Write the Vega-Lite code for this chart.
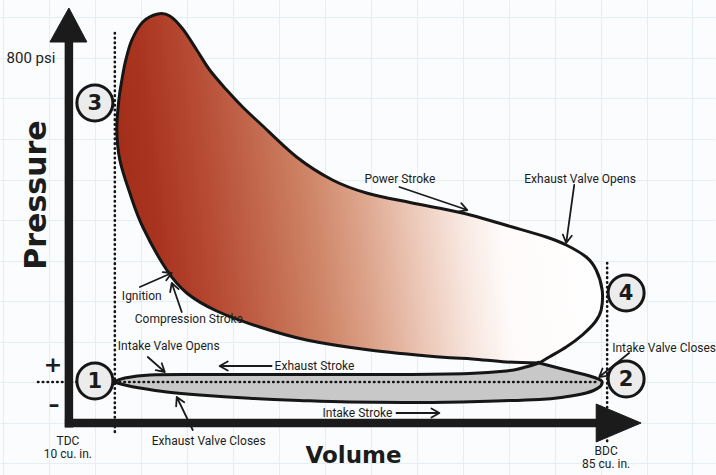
{
  "$schema": "https://vega.github.io/schema/vega-lite/v6.json",
  "width": 716,
  "height": 475,
  "autosize": {"type": "fit", "contains": "padding"},
  "padding": 0,
  "background": "#fbfcfd",
  "config": {"view": {"stroke": null}},
  "datasets": {
    "loop": [
      {"i": 1, "vol": 74.66, "psi": 46.9}, {"i": 2, "vol": 69.64, "psi": 49.4}, {"i": 3, "vol": 64.46, "psi": 56.8},
      {"i": 4, "vol": 59.44, "psi": 61.7}, {"i": 5, "vol": 48.79, "psi": 79.0}, {"i": 6, "vol": 39.21, "psi": 103.7},
      {"i": 7, "vol": 32.06, "psi": 135.8}, {"i": 8, "vol": 25.52, "psi": 175.3}, {"i": 9, "vol": 20.95, "psi": 219.8},
      {"i": 10, "vol": 17.91, "psi": 276.5}, {"i": 11, "vol": 14.26, "psi": 382.7}, {"i": 12, "vol": 12.28, "psi": 466.7},
      {"i": 13, "vol": 10.76, "psi": 548.1}, {"i": 14, "vol": 10.3, "psi": 622.2}, {"i": 15, "vol": 10.61, "psi": 696.3},
      {"i": 16, "vol": 11.07, "psi": 745.7}, {"i": 17, "vol": 11.67, "psi": 795.1}, {"i": 18, "vol": 12.59, "psi": 844.4},
      {"i": 19, "vol": 14.26, "psi": 888.9}, {"i": 20, "vol": 16.54, "psi": 908.6}, {"i": 21, "vol": 18.37, "psi": 903.7},
      {"i": 22, "vol": 20.35, "psi": 871.6}, {"i": 23, "vol": 22.48, "psi": 819.8}, {"i": 24, "vol": 24.45, "psi": 770.4},
      {"i": 25, "vol": 27.04, "psi": 721.0}, {"i": 26, "vol": 29.47, "psi": 679.0}, {"i": 27, "vol": 32.06, "psi": 639.5},
      {"i": 28, "vol": 37.69, "psi": 555.6}, {"i": 29, "vol": 43.16, "psi": 498.8}, {"i": 30, "vol": 48.34, "psi": 466.7},
      {"i": 31, "vol": 55.34, "psi": 442.0}, {"i": 32, "vol": 62.94, "psi": 417.3}, {"i": 33, "vol": 70.55, "psi": 382.7},
      {"i": 34, "vol": 75.72, "psi": 358.0}, {"i": 35, "vol": 78.76, "psi": 338.3}, {"i": 36, "vol": 81.81, "psi": 308.6},
      {"i": 37, "vol": 83.33, "psi": 276.5}, {"i": 38, "vol": 84.24, "psi": 227.2}, {"i": 39, "vol": 84.09, "psi": 177.8},
      {"i": 40, "vol": 83.17, "psi": 148.1}, {"i": 41, "vol": 81.2, "psi": 116.0}, {"i": 42, "vol": 78.76, "psi": 86.4},
      {"i": 43, "vol": 76.18, "psi": 61.7}, {"i": 44, "vol": 74.66, "psi": 46.9}
    ],
    "intake": [
      {"i": 1, "vol": 9.85, "psi": 0}, {"i": 2, "vol": 11.52, "psi": 9.9}, {"i": 3, "vol": 15.33, "psi": 17.3},
      {"i": 4, "vol": 22.93, "psi": 18.5}, {"i": 5, "vol": 38.14, "psi": 18.5}, {"i": 6, "vol": 53.36, "psi": 18.5},
      {"i": 7, "vol": 64.01, "psi": 21.0}, {"i": 8, "vol": 69.64, "psi": 27.2}, {"i": 9, "vol": 72.07, "psi": 34.6},
      {"i": 10, "vol": 74.66, "psi": 46.9}, {"i": 10.5, "vol": 74.66, "psi": 46.9}, {"i": 11, "vol": 78.76, "psi": 29.6},
      {"i": 12, "vol": 81.81, "psi": 17.3}, {"i": 13, "vol": 83.48, "psi": 8.6}, {"i": 14, "vol": 84.24, "psi": 0},
      {"i": 15, "vol": 83.63, "psi": -14.8}, {"i": 16, "vol": 81.81, "psi": -27.2}, {"i": 17, "vol": 78.46, "psi": -37.0},
      {"i": 18, "vol": 74.66, "psi": -43.0}, {"i": 19, "vol": 65.53, "psi": -47.9}, {"i": 20, "vol": 56.4, "psi": -50.4},
      {"i": 21, "vol": 45.75, "psi": -49.4}, {"i": 22, "vol": 38.14, "psi": -45.4}, {"i": 23, "vol": 30.54, "psi": -40.0},
      {"i": 24, "vol": 22.93, "psi": -32.1}, {"i": 25, "vol": 17.91, "psi": -24.7}, {"i": 26, "vol": 13.8, "psi": -14.8},
      {"i": 27, "vol": 11.52, "psi": -7.4}, {"i": 28, "vol": 9.85, "psi": 0}
    ],
    "dots": [
      {"line": "TDC", "vol": 10, "psi": 861.7, "vol2": 10, "psi2": -123.5},
      {"line": "BDC", "vol": 85, "psi": 293.8, "vol2": 85, "psi2": -150.6},
      {"line": "atmospheric", "vol": -1.71, "psi": 0, "vol2": 83.48, "psi2": 0}
    ],
    "axes": [
      {"axis": "pressure", "vol": 3.0, "psi": 839.5, "vol2": 3.0, "psi2": -112.3},
      {"axis": "volume", "vol": 2.39, "psi": -101.2, "vol2": 83.78, "psi2": -101.2}
    ],
    "heads": [
      {"id": "pressure", "i": 1, "vol": 0.11, "psi": 839.5}, {"id": "pressure", "i": 2, "vol": 3.0, "psi": 923.5},
      {"id": "pressure", "i": 3, "vol": 5.74, "psi": 839.5}, {"id": "pressure", "i": 4, "vol": 0.11, "psi": 839.5},
      {"id": "volume", "i": 1, "vol": 83.33, "psi": -54.3}, {"id": "volume", "i": 2, "vol": 90.17, "psi": -101.2},
      {"id": "volume", "i": 3, "vol": 83.33, "psi": -148.1}, {"id": "volume", "i": 4, "vol": 83.33, "psi": -54.3}
    ],
    "pointers": [
      {"id": "P", "i": 1, "vol": 53.36, "psi": 481.5}, {"id": "P", "i": 2, "vol": 63.7, "psi": 424.7}, {"id": "P", "i": 3, "vol": 62.33, "psi": 420.5}, {"id": "P", "i": 4, "vol": 63.7, "psi": 424.7}, {"id": "P", "i": 5, "vol": 62.77, "psi": 441.5},
      {"id": "E", "i": 1, "vol": 79.98, "psi": 486.4}, {"id": "E", "i": 2, "vol": 78.76, "psi": 343.2}, {"id": "E", "i": 3, "vol": 78.25, "psi": 364.2}, {"id": "E", "i": 4, "vol": 78.76, "psi": 343.2}, {"id": "E", "i": 5, "vol": 79.61, "psi": 361.2},
      {"id": "I", "i": 1, "vol": 13.8, "psi": 234.6}, {"id": "I", "i": 2, "vol": 18.67, "psi": 269.1}, {"id": "I", "i": 3, "vol": 17.84, "psi": 251.1}, {"id": "I", "i": 4, "vol": 18.67, "psi": 269.1}, {"id": "I", "i": 5, "vol": 17.29, "psi": 271.4},
      {"id": "C", "i": 1, "vol": 20.19, "psi": 172.8}, {"id": "C", "i": 2, "vol": 18.67, "psi": 244.4}, {"id": "C", "i": 3, "vol": 19.72, "psi": 229.4}, {"id": "C", "i": 4, "vol": 18.67, "psi": 244.4}, {"id": "C", "i": 5, "vol": 18.43, "psi": 222.2},
      {"id": "IVO", "i": 1, "vol": 15.02, "psi": 61.7}, {"id": "IVO", "i": 2, "vol": 17.61, "psi": 24.7}, {"id": "IVO", "i": 3, "vol": 16.24, "psi": 29.4}, {"id": "IVO", "i": 4, "vol": 17.61, "psi": 24.7}, {"id": "IVO", "i": 5, "vol": 17.15, "psi": 46.2},
      {"id": "EVC", "i": 1, "vol": 21.87, "psi": -118.5}, {"id": "EVC", "i": 2, "vol": 19.43, "psi": -37.0}, {"id": "EVC", "i": 3, "vol": 20.57, "psi": -49.9}, {"id": "EVC", "i": 4, "vol": 19.43, "psi": -37.0}, {"id": "EVC", "i": 5, "vol": 19.34, "psi": -59.8},
      {"id": "IVC", "i": 1, "vol": 88.35, "psi": 71.6}, {"id": "IVC", "i": 2, "vol": 83.78, "psi": 12.3}, {"id": "IVC", "i": 3, "vol": 84.3, "psi": 33.3}, {"id": "IVC", "i": 4, "vol": 83.78, "psi": 12.3}, {"id": "IVC", "i": 5, "vol": 85.17, "psi": 16.0},
      {"id": "ES", "i": 1, "vol": 33.88, "psi": 39.5}, {"id": "ES", "i": 2, "vol": 25.97, "psi": 39.5}, {"id": "ES", "i": 3, "vol": 27.19, "psi": 50.6}, {"id": "ES", "i": 4, "vol": 25.97, "psi": 39.5}, {"id": "ES", "i": 5, "vol": 27.19, "psi": 28.4},
      {"id": "IS", "i": 1, "vol": 52.9, "psi": -76.5}, {"id": "IS", "i": 2, "vol": 59.44, "psi": -76.5}, {"id": "IS", "i": 3, "vol": 58.23, "psi": -65.4}, {"id": "IS", "i": 4, "vol": 59.44, "psi": -76.5}, {"id": "IS", "i": 5, "vol": 58.23, "psi": -87.7}
    ],
    "points": [
      {"n": "3", "vol": 6.96, "psi": 688.9},
      {"n": "1", "vol": 6.96, "psi": 2.5},
      {"n": "4", "vol": 87.89, "psi": 219.8},
      {"n": "2", "vol": 87.89, "psi": 7.4}
    ],
    "notes": [
      {"label": "Intake Valve Opens", "vol": 10.46, "psi": 79.0},
      {"label": "Exhaust Stroke", "vol": 34.34, "psi": 29.6},
      {"label": "Intake Stroke", "vol": 41.64, "psi": -86.4},
      {"label": "Exhaust Valve Closes", "vol": 15.63, "psi": -155.6},
      {"label": "Intake Valve Closes", "vol": 85.76, "psi": 74.1},
      {"label": "Exhaust Valve Opens", "vol": 72.37, "psi": 491.4},
      {"label": "Power Stroke", "vol": 48.03, "psi": 491.4},
      {"label": "Ignition", "vol": 11.07, "psi": 202.5},
      {"label": "Compression Stroke", "vol": 13.04, "psi": 146.9}
    ],
    "ends": [
      {"label": "TDC", "vol": 2.85, "psi": -155.6},
      {"label": "10 cu. in.", "vol": 2.85, "psi": -187.7},
      {"label": "BDC", "vol": 84.85, "psi": -180.2},
      {"label": "85 cu. in.", "vol": 84.85, "psi": -212.3}
    ],
    "signs": [
      {"label": "+", "vol": 0.57, "psi": 42.0},
      {"label": "–", "vol": 0.72, "psi": -56.8}
    ]
  },
  "encoding": {
    "x": {"field": "vol", "type": "quantitative",
      "scale": {"domain": [-7.495, 101.43], "nice": false, "zero": false},
      "axis": {"grid": true, "labels": false, "ticks": false, "domain": false, "title": null, "gridColor": "#e4eff5", "gridWidth": 1, "minExtent": 0, "maxExtent": 0,
        "values": [-7, 0, 7, 14, 21, 28, 35, 42, 49, 56, 63, 70, 77, 84, 91, 98]}},
    "y": {"field": "psi", "type": "quantitative",
      "scale": {"domain": [-229.6, 943.2], "nice": false, "zero": false},
      "axis": {"grid": true, "labels": false, "ticks": false, "domain": false, "title": null, "gridColor": "#e4eff5", "gridWidth": 1, "minExtent": 0, "maxExtent": 0,
        "values": [-200, -100, 0, 100, 200, 300, 400, 500, 600, 700, 800, 900]}}
  },
  "layer": [
    {
      "data": {"name": "loop"},
      "mark": {"type": "line", "interpolate": "cardinal", "strokeWidth": 3, "stroke": "#161616", "strokeJoin": "round",
        "fill": {"gradient": "linear", "x1": 0, "y1": 0.53, "x2": 1, "y2": 0.45,
          "stops": [
            {"offset": 0, "color": "#a22c18"},
            {"offset": 0.08, "color": "#a93521"},
            {"offset": 0.18, "color": "#b64a33"},
            {"offset": 0.3, "color": "#c36a4f"},
            {"offset": 0.4, "color": "#cf8668"},
            {"offset": 0.5, "color": "#dda58d"},
            {"offset": 0.6, "color": "#ecc8b8"},
            {"offset": 0.7, "color": "#f8e8e1"},
            {"offset": 0.78, "color": "#fefbfa"},
            {"offset": 1, "color": "#ffffff"}
          ]}},
      "encoding": {"order": {"field": "i", "type": "quantitative"}}
    },
    {
      "data": {"name": "intake"},
      "mark": {"type": "line", "interpolate": "cardinal", "strokeWidth": 3, "stroke": "#161616", "strokeJoin": "round", "fill": "#c8c8c8"},
      "encoding": {"order": {"field": "i", "type": "quantitative"}}
    },
    {
      "data": {"name": "dots"},
      "mark": {"type": "rule", "strokeDash": [0.5, 4.3], "strokeCap": "round", "strokeWidth": 2.6, "color": "#141414"},
      "encoding": {"x2": {"field": "vol2"}, "y2": {"field": "psi2"}}
    },
    {
      "data": {"name": "axes"},
      "mark": {"type": "rule", "strokeWidth": 8.5, "color": "#1b1b1b", "strokeCap": "butt"},
      "encoding": {"x2": {"field": "vol2"}, "y2": {"field": "psi2"}}
    },
    {
      "data": {"name": "heads"},
      "mark": {"type": "line", "interpolate": "linear", "fill": "#1b1b1b", "stroke": "#1b1b1b", "strokeWidth": 1},
      "encoding": {"detail": {"field": "id"}, "order": {"field": "i", "type": "quantitative"}}
    },
    {
      "data": {"name": "pointers"},
      "mark": {"type": "line", "interpolate": "linear", "stroke": "#1b1b1b", "strokeWidth": 1.8, "strokeCap": "round", "strokeJoin": "round"},
      "encoding": {"detail": {"field": "id"}, "order": {"field": "i", "type": "quantitative"}}
    },
    {
      "data": {"name": "points"},
      "mark": {"type": "point", "shape": "circle", "size": 1296, "filled": true, "fill": "#ececec", "stroke": "#161616", "strokeWidth": 3, "opacity": 1, "fillOpacity": 1}
    },
    {
      "data": {"name": "points"},
      "mark": {"type": "text", "font": "DejaVu Sans", "fontWeight": "bold", "fontSize": 21, "align": "center", "baseline": "middle", "color": "#1b1b1b", "dy": 1},
      "encoding": {"text": {"field": "n"}}
    },
    {
      "data": {"name": "notes"},
      "mark": {"type": "text", "font": "Roboto", "fontSize": 12, "align": "left", "baseline": "alphabetic", "color": "#1c1c1c"},
      "encoding": {"text": {"field": "label"}}
    },
    {
      "data": {"name": "ends"},
      "mark": {"type": "text", "font": "Roboto", "fontSize": 12, "align": "center", "baseline": "alphabetic", "color": "#1c1c1c"},
      "encoding": {"text": {"field": "label"}}
    },
    {
      "data": {"values": [{"label": "800 psi", "vol": -2.78, "psi": 787.7}]},
      "mark": {"type": "text", "font": "Roboto", "fontSize": 15, "align": "center", "baseline": "alphabetic", "color": "#1c1c1c"},
      "encoding": {"text": {"field": "label"}}
    },
    {
      "data": {"values": [{"label": "Pressure", "vol": -1.87, "psi": 461.7}]},
      "mark": {"type": "text", "font": "DejaVu Sans", "fontWeight": "bold", "fontSize": 30, "angle": 270, "align": "center", "baseline": "middle", "color": "#1c1c1c"},
      "encoding": {"text": {"field": "label"}}
    },
    {
      "data": {"values": [{"label": "Volume", "vol": 46.36, "psi": -200.0}]},
      "mark": {"type": "text", "font": "DejaVu Sans", "fontWeight": "bold", "fontSize": 23, "align": "center", "baseline": "alphabetic", "color": "#1c1c1c"},
      "encoding": {"text": {"field": "label"}}
    },
    {
      "data": {"name": "signs"},
      "mark": {"type": "text", "font": "DejaVu Sans", "fontWeight": "bold", "fontSize": 22, "align": "center", "baseline": "middle", "color": "#1c1c1c"},
      "encoding": {"text": {"field": "label"}}
    }
  ]
}
